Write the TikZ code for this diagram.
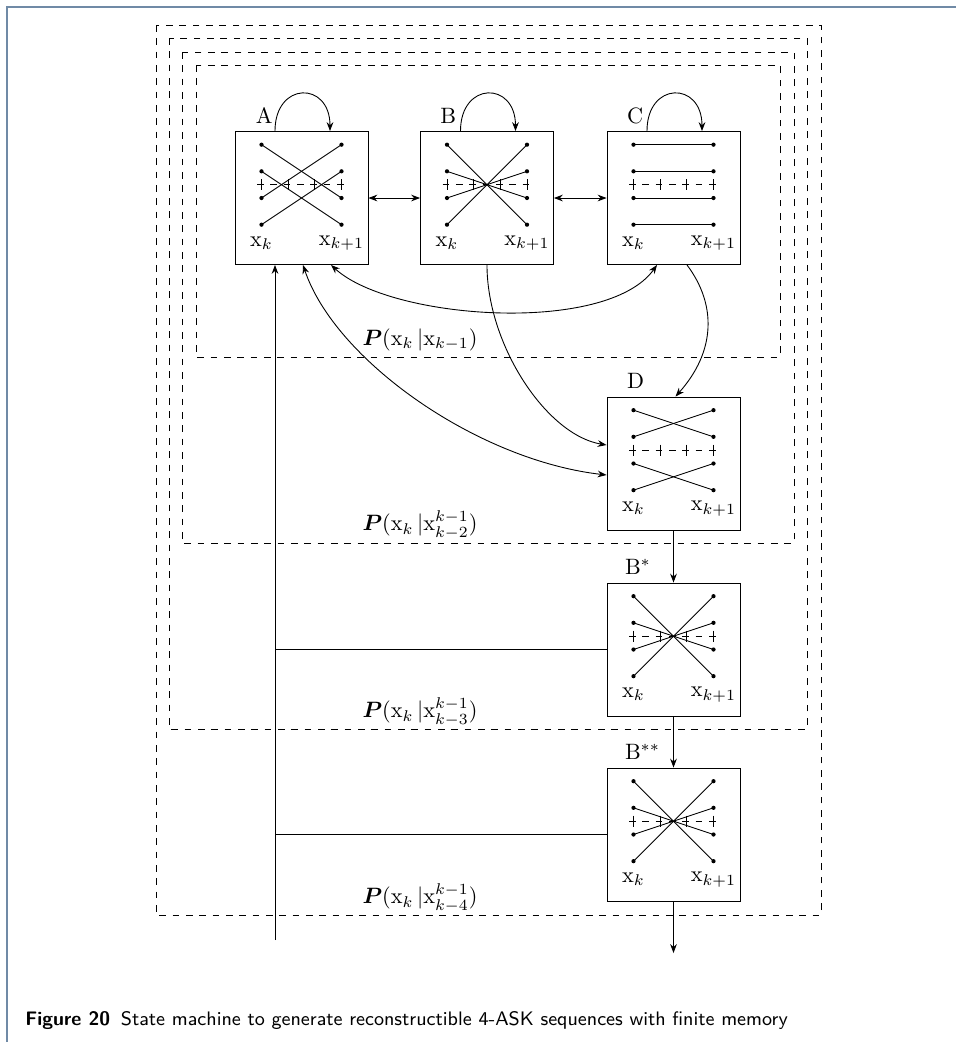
\documentclass[tikz,border=0pt]{standalone}
\usepackage{bm}
\usetikzlibrary{arrows.meta,calc}
\definecolor{framecol}{RGB}{112,138,166}
\tikzset{
  stbox/.style={draw, minimum size=59.85pt, inner sep=0pt},
  region/.style={draw, dashed},
  tip/.style={-{Stealth[length=4pt,width=3pt]}},
  dtip/.style={{Stealth[length=4pt,width=3pt]}-{Stealth[length=4pt,width=3pt]}},
  stname/.style={anchor=base west, inner sep=0pt},
  cond/.style={inner sep=0pt},
  symlab/.style={inner sep=0pt},
}
% Inside of a state box: four levels at x_k and x_{k+1}, the decision axis
% with its thresholds, and the transitions given as left/right level pairs.
\newcommand{\levelmap}[2]{%
  \begin{scope}[shift={(#1.center)}]
    \foreach \l/\r in {#2}
      \draw (-40,{-53.33+(\l-1)*26.67}) -- (40,{-53.33+(\r-1)*26.67});
    \foreach \yy in {-53.33,-26.67,0,26.67}{
      \fill (-40,\yy) circle[radius=0.95pt];
      \fill (40,\yy) circle[radius=0.95pt];
    }
    \draw[dashed] (-44.5,-13.33) -- (44.5,-13.33);
    \foreach \xx in {-40,-13.33,13.33,40}
      \draw (\xx,-18.8) -- (\xx,-7.9);
    \node[symlab] (#1xk) at (-40,45) {$\mathrm{x}_k$};
    \node[symlab] (#1xn) at (40,45) {$\mathrm{x}_{k+1}$};
  \end{scope}}
\begin{document}
\begin{tikzpicture}[x=0.45pt, y=-0.45pt]
  \useasboundingbox (0,0) rectangle (956,1042);
  \draw[framecol, line width=0.7pt] (7,1042) -- (7,7) -- (956,7);

  % memory regions
  \draw[region] (156,25) rectangle (821,915);
  \draw[region] (169,38) rectangle (807,729);
  \draw[region] (182,52) rectangle (794,543);
  \draw[region] (196,65) rectangle (780,357);

  % states
  \node[stbox] (A)   at (301.5,198) {};
  \node[stbox] (B)   at (487,198) {};
  \node[stbox] (C)   at (673.5,198) {};
  \node[stbox] (D)   at (673.5,463.5) {};
  \node[stbox] (Bs)  at (673.5,649.5) {};
  \node[stbox] (Bss) at (673.5,834.5) {};

  \levelmap{A}{1/3,2/4,3/1,4/2}
  \levelmap{B}{1/4,4/1,2/3,3/2}
  \levelmap{C}{1/1,2/2,3/3,4/4}
  \levelmap{D}{1/2,2/1,3/4,4/3}
  \levelmap{Bs}{1/4,4/1,2/3,3/2}
  \levelmap{Bss}{1/4,4/1,2/3,3/2}

  \node[stname] (Alab)   at ($(A.north west)+(21,-8)$) {A};
  \node[stname] (Blab)   at ($(B.north west)+(20,-8)$) {B};
  \node[stname] (Clab)   at ($(C.north west)+(20,-8)$) {C};
  \node[stname] (Dlab)   at ($(D.north west)+(20,-8)$) {D};
  \node[stname] (Bslab)  at ($(Bs.north west)+(18,-8)$) {B$^*$};
  \node[stname] (Bsslab) at ($(Bss.north west)+(18,-8)$) {B$^{**}$};

  % self loops
  \foreach \s in {A,B,C}
    \draw[tip] ($(\s.north)+(-26.5,0)$) .. controls +(0,-50) and +(0,-50) .. ($(\s.north)+(28.5,0)$);

  % transitions between states
  \draw[dtip] (A.east) -- (B.west);
  \draw[dtip] (B.east) -- (C.west);
  \draw[dtip] ($(A.south)+(29.5,0)$) .. controls +(60,55) and +(-50,70) .. ($(C.south)+(-16.5,0)$);
  \draw[dtip] ($(A.south)+(1.5,0)$) .. controls +(32,95) and +(-130,-15) .. ($(D.west)+(0,11.5)$);
  \draw[tip] (B.south) .. controls +(0,80) and +(-60,-10) .. ($(D.west)+(0,-18.5)$);
  \draw[tip] ($(C.south)+(13.5,0)$) .. controls +(30,40) and +(40,-45) .. ($(D.north)+(2,0)$);
  \draw[tip] (D.south) -- (Bs.north);
  \draw[tip] (Bs.south) -- (Bss.north);
  \coordinate (out) at (673.5,953);
  \draw[tip] (Bss.south) -- (out);

  % return path to A
  \coordinate (fbot) at (275,940);
  \coordinate (ftop) at (fbot |- A.south);
  \draw[tip] (fbot) -- (ftop);
  \draw (Bs.west) -- (Bs.west -| fbot);
  \draw (Bss.west) -- (Bss.west -| fbot);

  % conditional probabilities of the regions
  \node[cond] (p1) at (420,340) {$\bm{P}(\mathrm{x}_k\,|\mathrm{x}_{k-1})$};
  \node[cond] (p2) at (420,525) {$\bm{P}(\mathrm{x}_k\,|\mathrm{x}_{k-2}^{k-1})$};
  \node[cond] (p3) at (420,712) {$\bm{P}(\mathrm{x}_k\,|\mathrm{x}_{k-3}^{k-1})$};
  \node[cond] (p4) at (420,898) {$\bm{P}(\mathrm{x}_k\,|\mathrm{x}_{k-4}^{k-1})$};

  \node[anchor=base west, inner sep=0pt, font=\sffamily\fontsize{8.8}{11}\selectfont] (cap) at (25,1025)
    {\textbf{Figure 20}\hspace{0.55em}State machine to generate reconstructible 4-ASK sequences with finite memory};
\end{tikzpicture}
\end{document}
